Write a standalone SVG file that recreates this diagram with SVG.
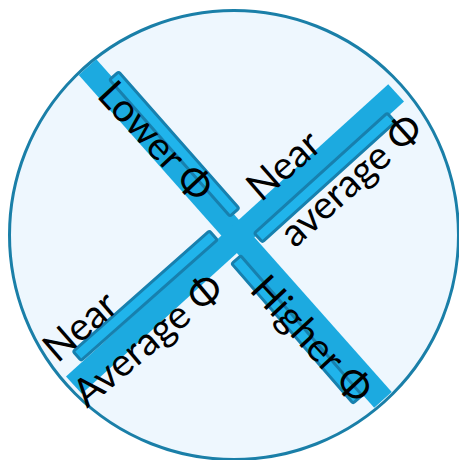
<svg xmlns="http://www.w3.org/2000/svg" width="459" height="460" viewBox="0 0 459 460">
  <style>
    .bar { fill: #1caae0; }
    .inner { fill: #20b4eb; stroke: #1780ae; stroke-width: 3; }
    .lbl { font-family: Lato, "Noto Sans", sans-serif; font-size: 39px; fill: #000; text-anchor: middle; dominant-baseline: central; }
  </style>
  <rect width="459" height="460" fill="#ffffff"/>
  <g id="background">
    <circle cx="234" cy="235" r="224.5" fill="#eef7fe" stroke="#1a7fa8" stroke-width="3"/>
  </g>
  <g id="connectors">
    <rect class="bar" x="-222.5" y="-11.75" width="445" height="23.5" transform="translate(235.25,233.5) rotate(48.4)"/>
    <rect class="bar" x="-217.5" y="-11.75" width="435" height="23.5" transform="translate(235,239) rotate(-42.2)"/>
  </g>
  <g id="lower">
    <rect class="inner" x="-91" y="-6" width="182" height="12" rx="2" transform="translate(174.3,144) rotate(48.6)"/>
    <text class="lbl" transform="translate(157,140) rotate(47)">Lower Φ</text>
  </g>
  <g id="near-average-upper">
    <rect class="inner" x="-89.5" y="-6" width="179" height="12" rx="2" transform="translate(324.8,177.6) rotate(-42.1)"/>
    <text class="lbl" transform="translate(282.5,164) rotate(-41)">Near</text>
    <text class="lbl" transform="translate(350,179) rotate(-42)">average Φ</text>
  </g>
  <g id="near-average-lower">
    <rect class="inner" x="-91" y="-6" width="182" height="12" rx="2" transform="translate(145.3,295.7) rotate(-41.5)"/>
    <text class="lbl" transform="translate(79,325) rotate(-41)">Near</text>
    <text class="lbl" transform="translate(146.7,339) rotate(-40)">Average Φ</text>
  </g>
  <g id="higher">
    <rect class="inner" x="-92.5" y="-6" width="185" height="12" rx="2" transform="translate(296.9,329.5) rotate(49)"/>
    <text class="lbl" transform="translate(313,338) rotate(47)">Higher Φ</text>
  </g>
</svg>
